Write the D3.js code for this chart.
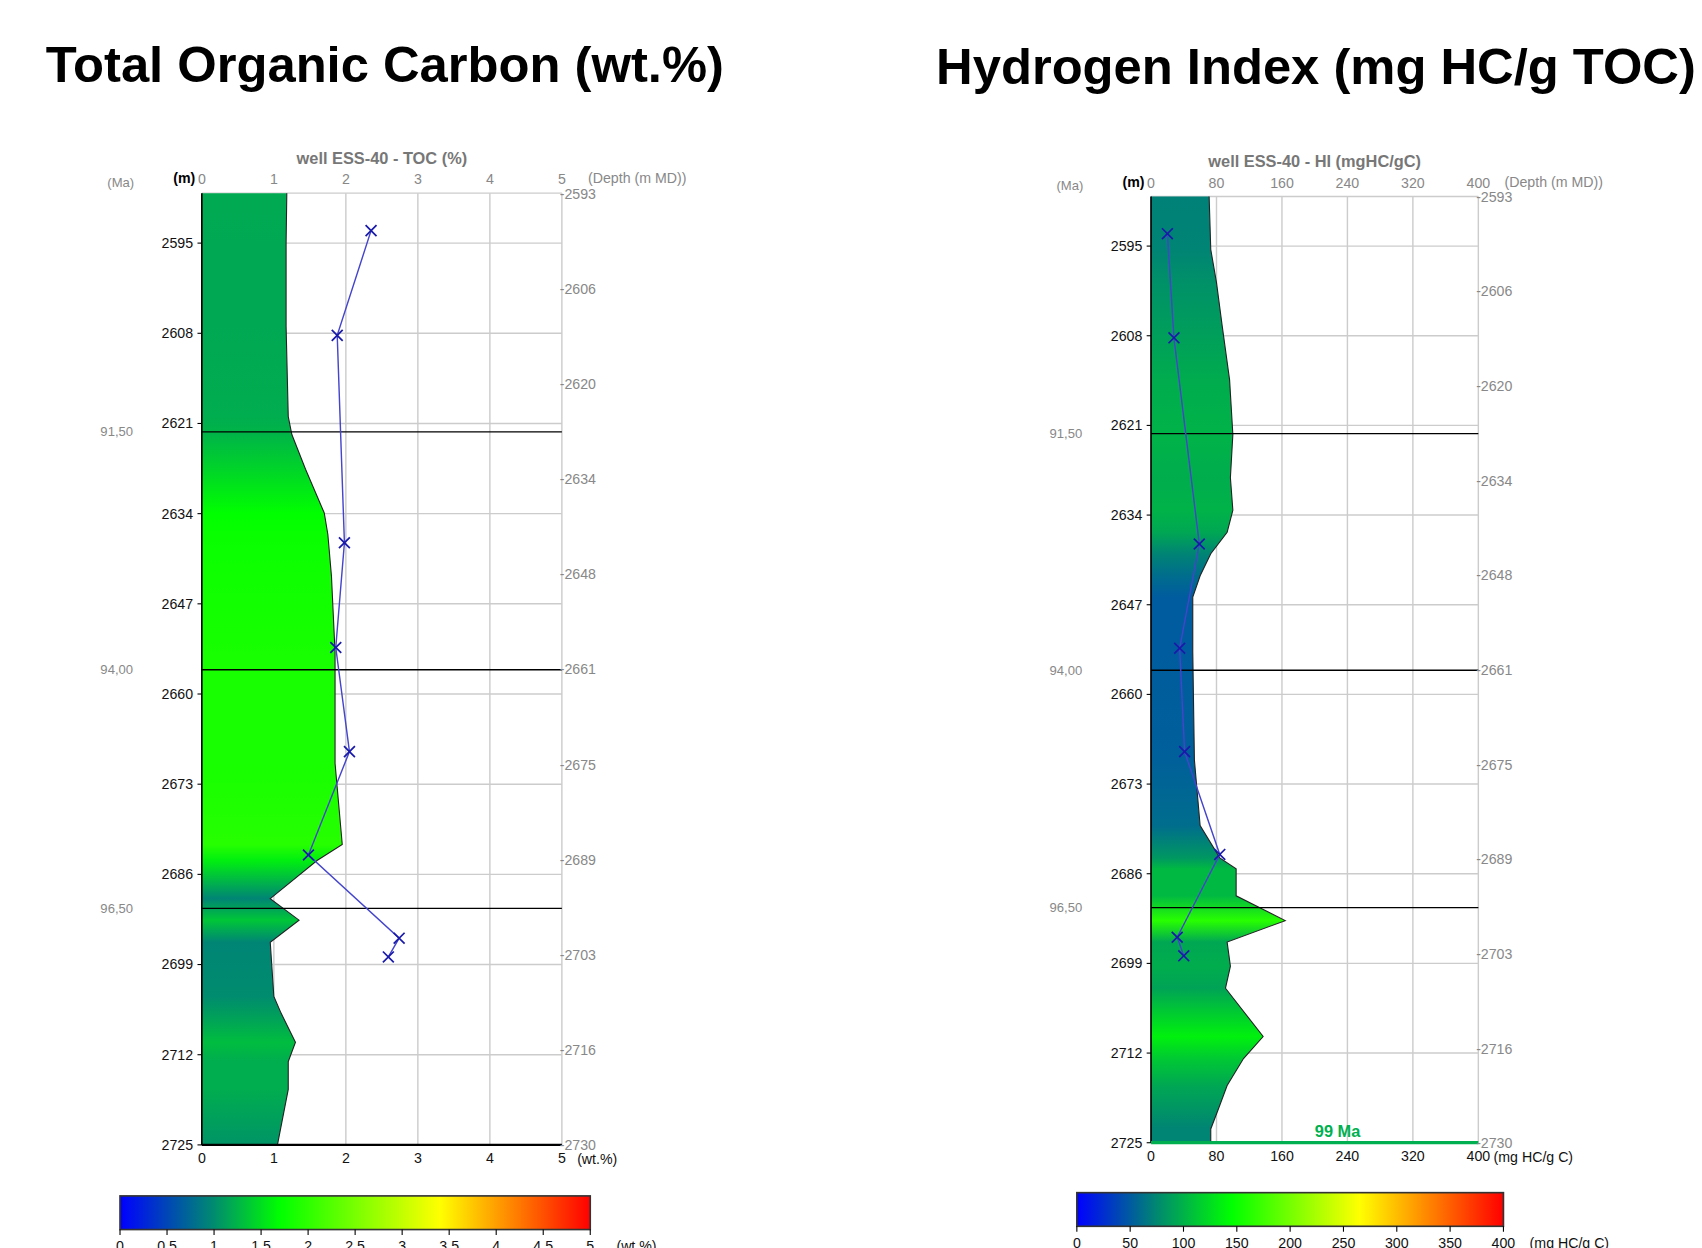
<!DOCTYPE html>
<html><head><meta charset="utf-8">
<script src="https://cdn.jsdelivr.net/npm/d3@7"></script>
<style>body{margin:0;background:#fff}text{font-family:"Liberation Sans",Arial,sans-serif}</style>
</head><body>
<svg id="c" width="1702" height="1248" viewBox="0 0 1560 1150" preserveAspectRatio="none"></svg>
<script>
// shared depths (m) of the sample points
var sampleDepth = [2593.2, 2608.3, 2638.2, 2653.3, 2668.3, 2683.2, 2695.2, 2697.9];
var tocSamples = [2.35, 1.88, 1.98, 1.86, 2.05, 1.48, 2.74, 2.59];
var hiSamples = [20, 28, 59, 35, 41, 84, 32, 40];

// continuous profiles
var tocProfDepth = [2587.8, 2595, 2607, 2620, 2622.6, 2627.6, 2633.9, 2637, 2643, 2654, 2670, 2681.7, 2684, 2689.5, 2692.6, 2695.8, 2703.6, 2706, 2710.2, 2713, 2717, 2725];
var tocProf = [1.18, 1.17, 1.17, 1.2, 1.25, 1.44, 1.7, 1.75, 1.8, 1.85, 1.85, 1.95, 1.6, 0.95, 1.35, 0.95, 1.0, 1.1, 1.3, 1.2, 1.2, 1.05];
var hiProfDepth = [2587.8, 2595.5, 2600.3, 2606.6, 2614.4, 2622.3, 2628.6, 2633.3, 2636.5, 2639.6, 2642.8, 2645.9, 2653.8, 2669.5, 2679, 2683.7, 2685.3, 2689.2, 2692.8, 2695.9, 2699.4, 2702.6, 2709.6, 2712.8, 2716.7, 2719.9, 2723, 2725];
var hiProf = [71, 73, 80, 87, 96, 100, 97, 100, 93, 73, 60, 51, 51, 53, 60, 84, 104, 104, 164, 93, 97, 91, 137, 113, 93, 83, 73, 73];

var leftTicks = [2595, 2608, 2621, 2634, 2647, 2660, 2673, 2686, 2699, 2712, 2725];
var rightTicks = ["-2593", "-2606", "-2620", "-2634", "-2648", "-2661", "-2675", "-2689", "-2703", "-2716", "-2730"];
var maLabels = ["91,50", "94,00", "96,50"];
var maDepth = [2622.2, 2656.5, 2690.9];
var tocTicks = [0, 1, 2, 3, 4, 5];
var hiTicks = [0, 80, 160, 240, 320, 400];
var tocBarTicks = [0, 0.5, 1, 1.5, 2, 2.5, 3, 3.5, 4, 4.5, 5];
var hiBarTicks = [0, 50, 100, 150, 200, 250, 300, 350, 400];

var tocColor = d3.scaleLinear().domain([0, 1, 1.7, 3.4, 5]).range(["#0000ff", "#008c6e", "#00ff00", "#ffff00", "#ff0000"]);
var hiColor = d3.scaleLinear().domain([0, 75, 145, 265, 400]).range(["#0000ff", "#008870", "#00ff00", "#ffff00", "#ff0000"]);

var svg = d3.select("#c");
var defs = svg.append("defs");

svg.append("text").attr("x", 42).attr("y", 76).attr("font-size", 46.5).attr("font-weight", "bold").text("Total Organic Carbon (wt.%)");
svg.append("text").attr("x", 858).attr("y", 77).attr("font-size", 46.5).attr("font-weight", "bold").text("Hydrogen Index (mg HC/g TOC)");

function panel(o) {
  var x = d3.scaleLinear().domain([0, o.max]).range([o.l, o.r]);
  var y = d3.scaleLinear().domain([2587.8, 2725]).range([o.t, o.b]);
  var yr = d3.scaleLinear().domain([0, 10]).range([o.t, o.b]);
  var g = svg.append("g");
  var gray = "#888";

  // grid
  g.selectAll(".vg").data(o.ticks).enter().append("line")
    .attr("x1", d => x(d)).attr("x2", d => x(d)).attr("y1", o.t).attr("y2", o.b)
    .attr("stroke", "#ccc").attr("stroke-width", 1.3);
  g.selectAll(".hg").data(leftTicks).enter().append("line")
    .attr("x1", o.l).attr("x2", o.r).attr("y1", d => y(d)).attr("y2", d => y(d))
    .attr("stroke", "#ccc").attr("stroke-width", 1.3);
  g.append("line").attr("x1", o.l).attr("x2", o.r).attr("y1", o.t).attr("y2", o.t).attr("stroke", "#ccc").attr("stroke-width", 1.3);

  // gradient fill
  var gid = "grad" + o.id;
  var lg = defs.append("linearGradient").attr("id", gid).attr("gradientUnits", "userSpaceOnUse")
    .attr("x1", 0).attr("x2", 0).attr("y1", o.t).attr("y2", o.b);
  o.pd.forEach(function (d, i) {
    lg.append("stop").attr("offset", (y(d) - o.t) / (o.b - o.t)).attr("stop-color", o.color(o.pv[i]));
  });
  var pts = o.pd.map((d, i) => [o.pv[i], d]);
  var area = d3.area().y(d => y(d[1])).x0(x(0)).x1(d => x(d[0]));
  g.append("path").datum(pts).attr("d", area).attr("fill", "url(#" + gid + ")");
  g.append("path").datum(pts).attr("d", d3.line().x(d => x(d[0])).y(d => y(d[1])))
    .attr("fill", "none").attr("stroke", "#222").attr("stroke-width", 1);

  // axes lines
  g.append("line").attr("x1", o.l).attr("x2", o.l).attr("y1", o.t).attr("y2", o.b).attr("stroke", "#000").attr("stroke-width", 1.5);
  g.append("line").attr("x1", o.l).attr("x2", o.r).attr("y1", o.b).attr("y2", o.b).attr("stroke", o.bottomColor).attr("stroke-width", o.bottomW);

  // Ma lines
  g.selectAll(".ma").data(maDepth).enter().append("line")
    .attr("x1", o.l).attr("x2", o.r).attr("y1", d => y(d)).attr("y2", d => y(d)).attr("stroke", "#000").attr("stroke-width", 1.2);
  g.selectAll(".mat").data(maDepth).enter().append("text")
    .attr("x", o.l - 63).attr("y", d => y(d) + 4).attr("text-anchor", "end").attr("font-size", 12).attr("fill", gray)
    .text((d, i) => maLabels[i]);

  // left depth axis
  g.selectAll(".lt").data(leftTicks).enter().append("text")
    .attr("x", o.l - 8).attr("y", d => y(d) + 4.5).attr("text-anchor", "end").attr("font-size", 13).attr("fill", "#111")
    .text(d => d);
  g.selectAll(".ltk").data(leftTicks).enter().append("line")
    .attr("x1", o.l - 4).attr("x2", o.l).attr("y1", d => y(d)).attr("y2", d => y(d)).attr("stroke", "#000");

  // right axis
  g.selectAll(".rt").data(rightTicks).enter().append("text")
    .attr("x", o.r - 2).attr("y", (d, i) => yr(i) + 5).attr("font-size", 13).attr("fill", gray).text(d => d);

  // top and bottom tick labels
  g.selectAll(".tt").data(o.ticks).enter().append("text")
    .attr("x", d => x(d)).attr("y", o.t - 8).attr("text-anchor", "middle").attr("font-size", 13).attr("fill", gray).text(d => d);
  g.selectAll(".bt").data(o.ticks).enter().append("text")
    .attr("x", d => x(d)).attr("y", o.b + 17).attr("text-anchor", "middle").attr("font-size", 13).attr("fill", "#111").text(d => d);
  g.append("text").attr("x", o.r + 14).attr("y", o.b + 18).attr("font-size", 13).attr("fill", "#111").text(o.unit);
  g.append("text").attr("x", o.l - 6).attr("y", o.t - 9).attr("text-anchor", "end").attr("font-size", 13).attr("font-weight", "bold").text("(m)");
  g.append("text").attr("x", o.l - 62).attr("y", o.t - 6).attr("text-anchor", "end").attr("font-size", 12).attr("fill", gray).text("(Ma)");
  var cid = "clip" + o.id;
  defs.append("clipPath").attr("id", cid).append("rect").attr("x", o.r).attr("y", o.t - 30).attr("width", o.dclip).attr("height", 30);
  g.append("text").attr("x", o.r + 24).attr("y", o.t - 9).attr("font-size", 13).attr("fill", gray)
    .attr("clip-path", "url(#" + cid + ")").text("(Depth (m MD))");
  g.append("text").attr("x", (o.l + o.r) / 2).attr("y", o.t - 27).attr("text-anchor", "middle").attr("font-size", 15)
    .attr("font-weight", "bold").attr("fill", "#777").text(o.title);

  // samples
  var sp = sampleDepth.map((d, i) => [o.sv[i], d]);
  g.append("path").datum(sp).attr("d", d3.line().x(d => x(d[0])).y(d => y(d[1])))
    .attr("fill", "none").attr("stroke", "#4444cc").attr("stroke-width", 1.3);
  var s = 5;
  g.selectAll(".mk").data(sp).enter().append("path")
    .attr("d", d => { var cx = x(d[0]), cy = y(d[1]); return "M" + (cx - s) + "," + (cy - s) + "L" + (cx + s) + "," + (cy + s) + "M" + (cx - s) + "," + (cy + s) + "L" + (cx + s) + "," + (cy - s); })
    .attr("stroke", "#1a1aaa").attr("stroke-width", 1.6);

  if (o.extra) o.extra(g, x, y);

  // colour bar
  var bx = d3.scaleLinear().domain([0, o.max]).range([o.bl, o.br]);
  var bid = "bar" + o.id;
  var bg = defs.append("linearGradient").attr("id", bid).attr("gradientUnits", "userSpaceOnUse")
    .attr("x1", o.bl).attr("x2", o.br).attr("y1", 0).attr("y2", 0);
  o.color.domain().forEach(v => bg.append("stop").attr("offset", v / o.max).attr("stop-color", o.color(v)));
  g.append("rect").attr("x", o.bl).attr("y", o.bt).attr("width", o.br - o.bl).attr("height", 31)
    .attr("fill", "url(#" + bid + ")").attr("stroke", "#333").attr("stroke-width", 1.5);
  g.selectAll(".cbt").data(o.barTicks).enter().append("line")
    .attr("x1", d => bx(d)).attr("x2", d => bx(d)).attr("y1", o.bt + 31).attr("y2", o.bt + 36).attr("stroke", "#000");
  g.selectAll(".cbl").data(o.barTicks).enter().append("text")
    .attr("x", d => bx(d)).attr("y", o.bt + 51).attr("text-anchor", "middle").attr("font-size", 13).attr("fill", "#111").text(d => d);
  g.append("text").attr("x", o.br + 24).attr("y", o.bt + 51).attr("font-size", 13).attr("fill", "#111").text(o.unit);
}

panel({ id: "toc", l: 185, r: 515, t: 178, b: 1055, max: 5, ticks: tocTicks, color: tocColor,
  pd: tocProfDepth, pv: tocProf, sv: tocSamples, unit: "(wt.%)", title: "well ESS-40 - TOC (%)",
  bottomColor: "#000", bottomW: 2, dclip: 200, bl: 110, br: 541, bt: 1102, barTicks: tocBarTicks });

panel({ id: "hi", l: 1055, r: 1355, t: 181, b: 1053, max: 400, ticks: hiTicks, color: hiColor,
  pd: hiProfDepth, pv: hiProf, sv: hiSamples, unit: "(mg HC/g C)", title: "well ESS-40 - HI (mgHC/gC)",
  bottomColor: "#00b050", bottomW: 3, dclip: 122, bl: 987, br: 1378, bt: 1099, barTicks: hiBarTicks,
  extra: function (g, x, y) {
    g.append("text").attr("x", x(228)).attr("y", 1048).attr("text-anchor", "middle").attr("font-size", 15)
      .attr("font-weight", "bold").attr("fill", "#00b050").text("99 Ma");
  } });
</script>
</body></html>
